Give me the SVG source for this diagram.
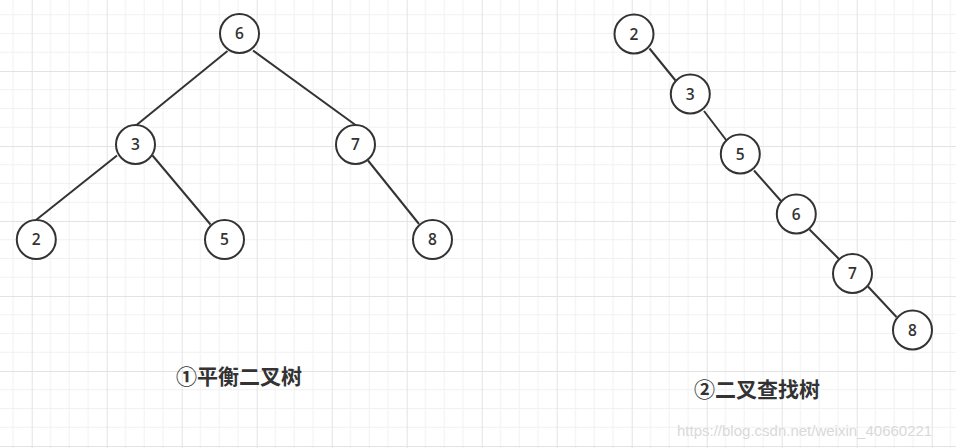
<svg xmlns="http://www.w3.org/2000/svg" width="956" height="448" viewBox="0 0 956 448">
  <defs>
    <pattern id="grid" patternUnits="userSpaceOnUse" x="31.7" y="71" width="75" height="75">
      <path d="M18.75 0V75M37.5 0V75M56.25 0V75M0 18.75H75M0 37.5H75M0 56.25H75" stroke="#f1f1f1" stroke-width="1" fill="none"/>
      <path d="M0.5 0V75M0 0.5H75" stroke="#e3e3e3" stroke-width="1" fill="none"/>
    </pattern>
    <style>
      .edge { stroke: #333333; stroke-width: 2; fill: none; }
      .node circle { fill: #ffffff; stroke: #333333; stroke-width: 2; }
      .node text { font-family: "Open Sans", "Noto Sans", sans-serif; font-weight: 600; font-size: 15.5px; fill: #333333; text-anchor: middle; }
      .label { font-family: "Noto Sans CJK SC", "Noto Sans", sans-serif; font-weight: bold; font-size: 21px; fill: #333333; text-anchor: middle; }
      .wm { font-family: "Liberation Sans", Arial, sans-serif; font-size: 15px; fill: #d9d9d9; }
    </style>
  </defs>
  <rect width="956" height="448" fill="#ffffff"/>
  <rect width="956" height="448" fill="url(#grid)"/>

  <g id="connectors">
    <line class="edge" x1="227.5" y1="51" x2="136.5" y2="125"/>
    <line class="edge" x1="253" y1="50.5" x2="355.5" y2="125"/>
    <line class="edge" x1="117" y1="155.5" x2="36" y2="220"/>
    <line class="edge" x1="152.5" y1="155.5" x2="210.5" y2="224.5"/>
    <line class="edge" x1="368" y1="160.5" x2="419" y2="224"/>
    <line class="edge" x1="649.5" y1="48.5" x2="675.5" y2="80.5"/>
    <line class="edge" x1="704" y1="111" x2="726.5" y2="140.5"/>
    <line class="edge" x1="754" y1="170.5" x2="781" y2="201"/>
    <line class="edge" x1="809.5" y1="229.5" x2="839" y2="259"/>
    <line class="edge" x1="868" y1="286.5" x2="896.5" y2="317"/>
  </g>

  <g id="a6" class="node"><circle cx="239.5" cy="33.5" r="19.5"/><text x="239.5" y="39">6</text></g>
  <g id="a3" class="node"><circle cx="135.5" cy="144.5" r="19.5"/><text x="135.5" y="150">3</text></g>
  <g id="a7" class="node"><circle cx="355.5" cy="144.5" r="19.5"/><text x="355.5" y="150">7</text></g>
  <g id="a2" class="node"><circle cx="36.3" cy="239.5" r="19.5"/><text x="36.3" y="245">2</text></g>
  <g id="a5" class="node"><circle cx="224.5" cy="239.5" r="19.5"/><text x="224.5" y="245">5</text></g>
  <g id="a8" class="node"><circle cx="432.5" cy="239.5" r="19.5"/><text x="432.5" y="245">8</text></g>

  <g id="b2" class="node"><circle cx="634" cy="34" r="19.5"/><text x="634" y="39.5">2</text></g>
  <g id="b3" class="node"><circle cx="690.3" cy="94" r="19.5"/><text x="690.3" y="99.5">3</text></g>
  <g id="b5" class="node"><circle cx="740.3" cy="154" r="19.5"/><text x="740.3" y="159.5">5</text></g>
  <g id="b6" class="node"><circle cx="796.3" cy="214" r="19.5"/><text x="796.3" y="219.5">6</text></g>
  <g id="b7" class="node"><circle cx="852.5" cy="273.5" r="19.5"/><text x="852.5" y="279">7</text></g>
  <g id="b8" class="node"><circle cx="912.5" cy="330" r="19.5"/><text x="912.5" y="335.5">8</text></g>

  <text class="label" x="239" y="384">①平衡二叉树</text>
  <text class="label" x="757" y="397">②二叉查找树</text>
  <text class="wm" x="677" y="436">https://blog.csdn.net/weixin_40660221</text>
</svg>
